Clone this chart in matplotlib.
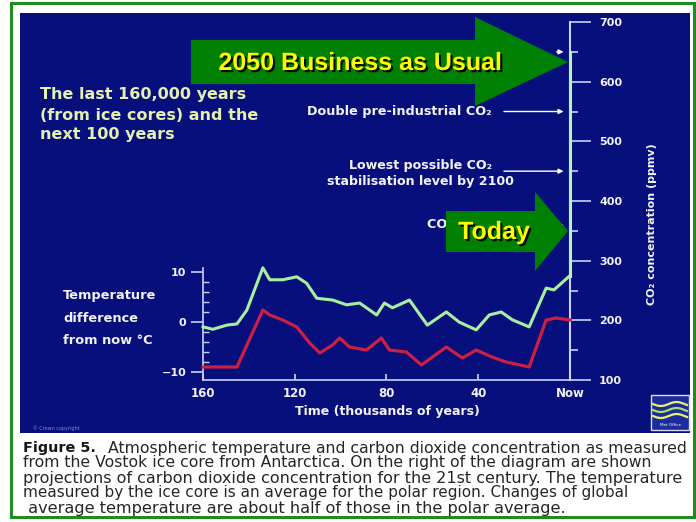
import numpy as np
import matplotlib
matplotlib.use('Agg')
import matplotlib.pyplot as plt
import matplotlib.patheffects as pe
from matplotlib.patches import Rectangle, Polygon

W, H = 696, 522

# Vostok CO2 (ppmv)
co2_time = [160, 155.7, 149.6, 145.2, 140.9, 133.9, 130.9, 125.2, 119.1, 114.8,
            110.4, 103.5, 97.4, 91.7, 84.3, 80.9, 77.4, 70.0, 62.2, 53.9,
            48.3, 40.9, 35.2, 30.0, 25.2, 17.8, 10.4, 7.0, 0]
co2_ppm = [189, 185, 192, 194, 217, 288, 268, 268, 273, 262,
           237, 234, 226, 229, 209, 229, 221, 234, 192, 214,
           197, 184, 209, 214, 201, 189, 254, 251, 275]

# temperature difference from now (deg C), red curve
temp_time = [160, 145.2, 133.9, 130.9, 125.2, 119.1, 113.5, 109.1, 103.5, 100.4,
             96.1, 88.7, 82.2, 78.7, 71.3, 64.8, 53.9, 46.9, 40.9, 34.0,
             27.8, 17.8, 10.4, 6.1, 0]
temp_diff = [-9, -9, 2.4, 1.4, 0.4, -1, -4.2, -6.2, -4.6, -3.2,
             -5, -5.6, -3.2, -5.6, -6, -8.6, -5, -7.2, -5.6, -7,
             -8, -9, 0.4, 0.8, 0.4]

# 21st century projection
proj_time = [0, 0]
proj_ppm = [275, 650]

# marked CO2 levels on the right axis
mark_ppm = [650, 550, 450, 360]
mark_from = [7, 30, 30, 20]

time_ticks = [160, 120, 80, 40, 0]
time_labels = ['160', '120', '80', '40', 'Now']
temp_ticks = [-10, 0, 10]
temp_labels = ['\u221210', '0', '10']
co2_ticks = [100, 200, 300, 400, 500, 600, 700]

intro_lines = ['The last 160,000 years', '(from ice cores) and the', 'next 100 years']
temp_lines = ['Temperature', 'difference', 'from now \u00b0C']
caption_lines = [
    'Atmospheric temperature and carbon dioxide concentration as measured',
    'from the Vostok ice core from Antarctica. On the right of the diagram are shown',
    'projections of carbon dioxide concentration for the 21st century. The temperature',
    'measured by the ice core is an average for the polar region. Changes of global',
    ' average temperature are about half of those in the polar average.',
]

BLUE = '#060f7c'
AXC = '#c8d2f4'
TXT = '#f2f2f2'


def fx(x):
    return x / W


def fy(y):
    return 1 - y / H


fig = plt.figure(figsize=(W / 100, H / 100), dpi=100, facecolor='white')
renderer = fig.canvas.get_renderer()

# frame and blue panel
fig.add_artist(Rectangle((fx(11), fy(517)), 683 / W, 514 / H, transform=fig.transFigure,
                         fill=False, ec='#1e8c1e', lw=2.2, zorder=-2))
fig.add_artist(Rectangle((fx(20), fy(433)), 670 / W, 420 / H, transform=fig.transFigure,
                         fc=BLUE, ec='none', zorder=-2))

pos = [fx(203), fy(380), (570 - 203) / W, (380 - 22) / H]
ax_c = fig.add_axes(pos)
ax_t = fig.add_axes(pos)
for a in (ax_c, ax_t):
    a.patch.set_visible(False)
    a.set_xlim(160, 0)

# CO2 axes
ax_c.set_ylim(100, 700)
ax_c.spines['left'].set_visible(False)
ax_c.spines['top'].set_visible(False)
ax_c.spines['right'].set_color(AXC)
ax_c.spines['bottom'].set_color(AXC)
ax_c.spines['right'].set_linewidth(1.5)
ax_c.spines['bottom'].set_linewidth(1.2)
ax_c.yaxis.tick_right()
ax_c.set_yticks(co2_ticks)
ax_c.set_yticks([p + 50 for p in co2_ticks[:-1]], minor=True)
ax_c.tick_params(axis='y', which='major', direction='out', length=15, width=1.2,
                 color=AXC, labelcolor=TXT, labelsize=8, pad=6)
ax_c.tick_params(axis='y', which='minor', direction='out', length=6, width=1.2, color=AXC)
for lab in ax_c.get_yticklabels():
    lab.set_fontweight('bold')
ax_c.set_xticks(time_ticks)
ax_c.set_xticklabels(time_labels, fontweight='bold')
ax_c.tick_params(axis='x', direction='in', length=4, width=1.2, color=AXC,
                 labelcolor=TXT, labelsize=8.5, pad=5)

# temperature axes
ax_t.set_ylim((322 - 380) / 5, (322 - 22) / 5)
for s in ('right', 'top', 'bottom'):
    ax_t.spines[s].set_visible(False)
ax_t.spines['left'].set_color(AXC)
ax_t.spines['left'].set_linewidth(1.2)
ax_t.spines['left'].set_bounds((322 - 380) / 5, 10.8)
ax_t.set_xticks([])
ax_t.set_yticks(temp_ticks)
ax_t.set_yticklabels(temp_labels, fontweight='bold')
ax_t.set_yticks(list(range(-10, 11, 2)), minor=True)
ax_t.tick_params(axis='y', which='major', direction='out', length=9, width=1.2,
                 color=AXC, labelcolor=TXT, labelsize=8, pad=3)
ax_t.tick_params(axis='y', which='minor', direction='in', length=4, width=1, color=AXC)

# curves
ax_c.plot(co2_time, co2_ppm, color='#a8f0a0', lw=2.2, zorder=3, clip_on=False)
ax_c.plot(proj_time, proj_ppm, color='#b8f4b0', lw=2.2, zorder=3, clip_on=False)
ax_t.plot(temp_time, temp_diff, color='#cc1f44', lw=2.3, zorder=3, clip_on=False)

# level arrows
for p, t0 in zip(mark_ppm, mark_from):
    ax_c.annotate('', xy=(1.6, p), xytext=(t0, p),
                  arrowprops=dict(arrowstyle='-|>', color='white', lw=1, mutation_scale=7))
ax_c.text(34.3, 550, 'Double pre-industrial CO\u2082', ha='right', va='center',
          color=TXT, fontsize=9.2, fontweight='bold')
ax_c.text(65.2, 446, 'Lowest possible CO\u2082\nstabilisation level by 2100', ha='center',
          va='center', color=TXT, fontsize=9.1, fontweight='bold', linespacing=1.25)
ax_c.text(62.2, 360, 'CO\u2082 today', ha='left', va='center', color=TXT,
          fontsize=9.2, fontweight='bold')

# side texts
for i, s in enumerate(intro_lines):
    fig.text(fx(40), fy(95 + 20 * i), s, color='#e4f0b0', fontsize=11.5,
             fontweight='bold', va='center')
for i, s in enumerate(temp_lines):
    fig.text(fx(63), fy(295 + 23 * i), s, color=TXT, fontsize=9.4,
             fontweight='bold', va='center')
fig.text(fx(387), fy(412), 'Time (thousands of years)', color=TXT, fontsize=9,
         fontweight='bold', ha='center', va='center')
fig.text(fx(652), fy(224), 'CO\u2082 concentration (ppmv)', color=TXT, fontsize=8,
         fontweight='bold', ha='center', va='center', rotation=90)
fig.text(fx(33), fy(428), '\u00a9 Crown copyright', color='#8090d0', fontsize=3.5,
         va='center')

# Met Office logo
fig.add_artist(Rectangle((fx(651), fy(430)), 38 / W, 35 / H, transform=fig.transFigure,
                         fc='#1c2c9c', ec='#d8dcf0', lw=1))
lx = np.linspace(653, 687, 30)
for k, c in enumerate(['#e8f070', '#a8e060', '#e8f070']):
    ly = 404 + 6 * k + 2 * np.sin((lx - 653) / 5)
    fig.add_artist(plt.Line2D(fx(lx), fy(ly), transform=fig.transFigure, color=c, lw=1.6))
fig.text(fx(670), fy(425), 'Met Office', color='white', fontsize=3, ha='center', va='center')

# overlay arrows
shadow = [pe.SimplePatchShadow(offset=(1.5, -1.5), shadow_rgbFace='black', alpha=0.9), pe.Normal()]
big = [(191, 40), (475, 40), (475, 17), (568, 62), (475, 106), (475, 84), (191, 84)]
today = [(446, 211), (535, 211), (535, 192), (568, 231), (535, 271), (535, 252), (446, 252)]
for poly in (big, today):
    fig.add_artist(Polygon([(fx(x), fy(y)) for x, y in poly], closed=True,
                           transform=fig.transFigure, fc='#008000', ec='none', zorder=5))
fig.text(fx(360), fy(63), '2050 Business as Usual', color='#ffff00', fontsize=18,
         family='Liberation Sans', fontweight='bold', ha='center', va='center',
         zorder=6, path_effects=shadow)
fig.text(fx(494), fy(232), 'Today', color='#ffff00', fontsize=18,
         family='Liberation Sans', fontweight='bold', ha='center', va='center',
         zorder=6, path_effects=shadow)

# caption, each line fitted to the width it has in the scan
fig.text(fx(23), fy(448), 'Figure 5.', color='#151515', fontsize=10.4, fontweight='bold',
         va='center')
cap_left = [108, 23, 23, 23, 23]
cap_right = [690, 652, 683, 628, 580]
for i, s in enumerate(caption_lines):
    t = fig.text(fx(cap_left[i]), fy(448 + 15 * i), s, color='#262626',
                 fontsize=11, va='center')
    w = t.get_window_extent(renderer).width
    t.set_fontsize(min(11.6, 11 * (cap_right[i] - cap_left[i]) / w))

fig.savefig('out.png', dpi=100, facecolor='white')
